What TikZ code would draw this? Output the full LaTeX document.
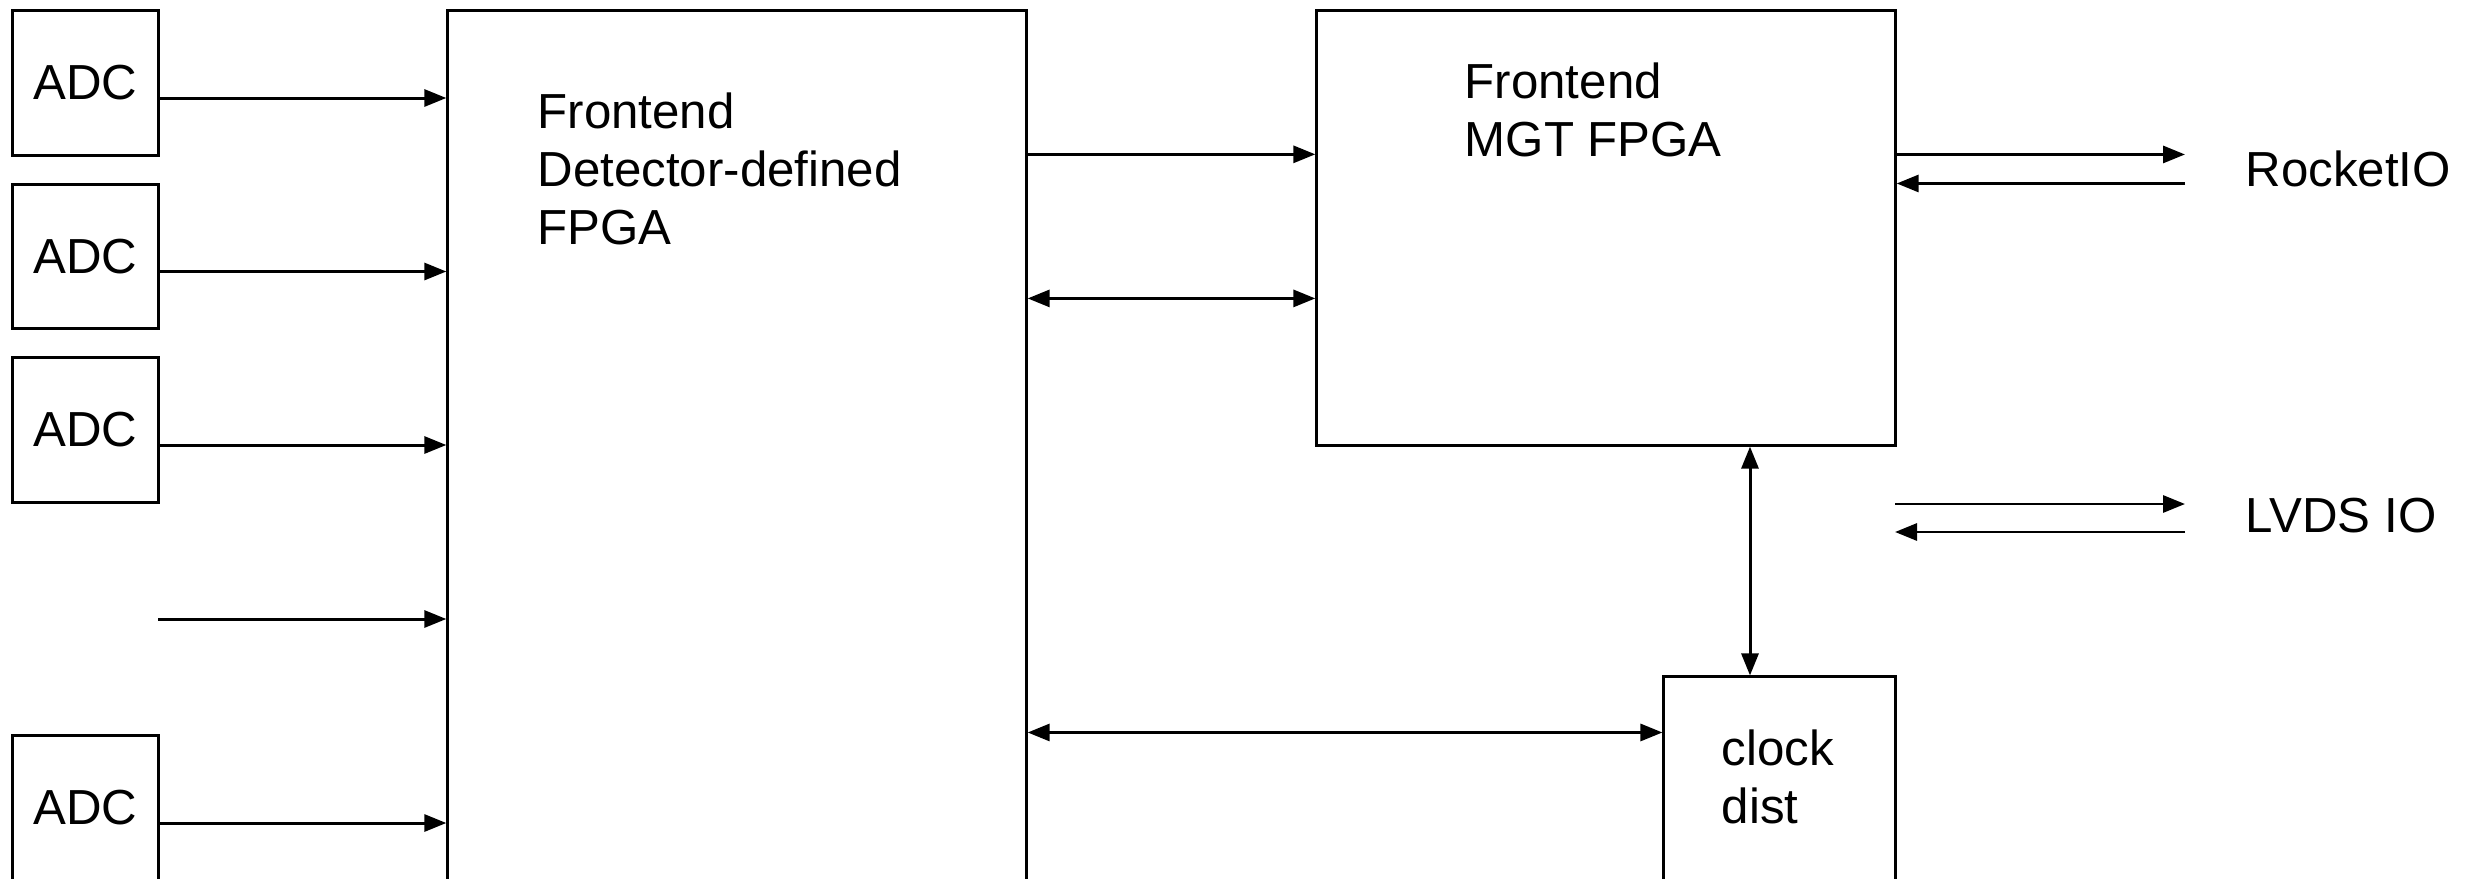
\documentclass[tikz,border=0pt]{standalone}
\usepackage{fontspec}
\setmainfont{Liberation Sans}
\usetikzlibrary{positioning, arrows.meta}

\begin{document}
\begin{tikzpicture}[x=0.01cm, y=-0.01cm,
    box/.style={draw, line width=0.85pt, inner sep=0pt},
    lbl/.style={font=\fontsize{14pt}{16.5pt}\selectfont, align=left, inner sep=0pt},
    adc/.style={box, lbl, minimum width=1.45cm, minimum height=1.44cm},
    sig/.style={line width=0.85pt, -{Triangle[length=0.22cm, width=0.17cm]}},
    bidi/.style={line width=0.85pt, {Triangle[length=0.22cm, width=0.17cm]}-{Triangle[length=0.22cm, width=0.17cm]}}]
  \useasboundingbox (0,0) rectangle (2476,879);
  \clip (0,0) rectangle (2476,879);

  % ADCs
  \node[adc] (adc1) at (85.5,83) {ADC};
  \node[adc] (adc2) at (85.5,256.5) {ADC};
  \node[adc] (adc3) at (85.5,430) {ADC};
  \node[adc] (adc5) at (85.5,808) {ADC};

  % main blocks
  \node[box, minimum width=5.78cm, minimum height=8.9cm] (fpga) at (737,456) {};
  \node[box, minimum width=5.78cm, minimum height=4.34cm] (mgt) at (1606,228) {};
  \node[box, minimum width=2.31cm, minimum height=2.2cm] (clk) at (1779.5,787) {};
  \node[lbl, anchor=west] (fpgatxt) at (537,169) {Frontend\\Detector-defined\\FPGA};
  \node[lbl, anchor=west] (mgttxt) at (1464,110) {Frontend\\MGT FPGA};
  \node[lbl, anchor=west] (clktxt) at (1721,777) {clock\\dist};
  \node[lbl, anchor=west] (rocket) at (2245,169) {RocketIO};
  \node[lbl, anchor=west] (lvds) at (2245,516) {LVDS IO};

  % inputs
  \foreach \i in {1,2,3,5} {
    \coordinate (in\i) at ([yshift=-0.15cm]adc\i.east);
  }
  \coordinate (in4) at (158,619);
  \foreach \i in {1,...,5} {
    \draw[sig] (in\i) -- (in\i -| fpga.west);
  }

  % FPGA to MGT and clock
  \coordinate (f1) at ([yshift=-1.45cm]fpga.north east);
  \coordinate (f2) at ([yshift=-2.89cm]fpga.north east);
  \draw[sig] (f1) -- (f1 -| mgt.west);
  \draw[bidi] (f2) -- (f2 -| mgt.west);
  \coordinate (c1) at ([yshift=-0.57cm]clk.north west);
  \draw[bidi] (c1 -| fpga.east) -- (c1);
  \coordinate (c2) at ([xshift=-0.295cm]clk.north);
  \draw[bidi] (c2 |- mgt.south) -- (c2);

  % outside links
  \coordinate (rend) at (2185,0);
  \coordinate (r1) at ([yshift=-1.45cm]mgt.north east);
  \coordinate (r2) at ([yshift=-1.74cm]mgt.north east);
  \draw[sig] (r1) -- (r1 -| rend);
  \draw[sig] (r2 -| rend) -- (r2);
  \coordinate (l1) at (1895,504);
  \coordinate (l2) at (1895,532);
  \draw[sig] (l1) -- (l1 -| rend);
  \draw[sig] (l2 -| rend) -- (l2);
\end{tikzpicture}
\end{document}
